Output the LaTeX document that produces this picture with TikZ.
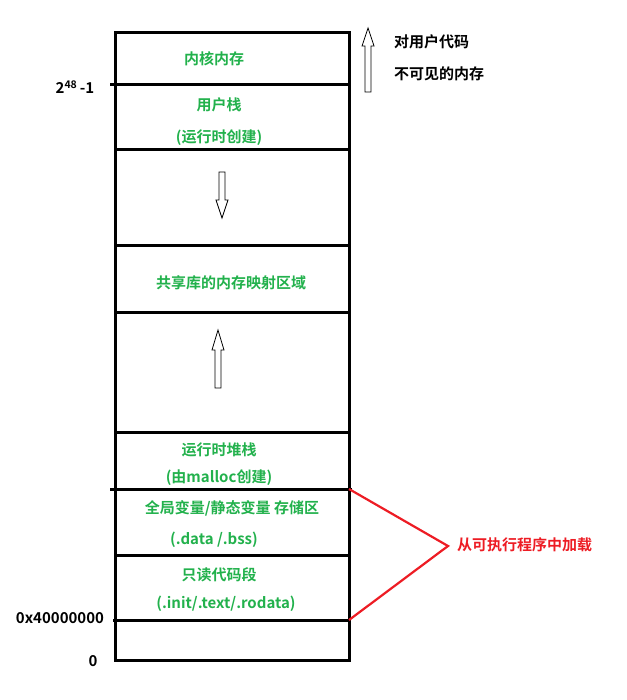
\documentclass[tikz,border=0pt]{standalone}
\usepackage{fontspec}
\setmainfont{Noto Sans CJK SC}[BoldFont={Noto Sans CJK SC Bold}]
\begin{document}
\begin{tikzpicture}[x=1pt,y=-1pt,
  lbl/.style={font=\fontsize{15}{17}\selectfont\bfseries, text=grn, inner sep=0},
  blk/.style={font=\fontsize{15}{17}\selectfont\bfseries, text=black, inner sep=0},
  sep/.style={line width=3pt},
  harrow/.style={draw=black, line width=0.8pt, fill=white}]
\definecolor{grn}{RGB}{34,177,76}
\definecolor{rd}{RGB}{237,28,36}
\useasboundingbox (0,0) rectangle (626,700);
\draw[line width=3pt] (115,33) rectangle (349,660);
\foreach \y in {85,150,246,312,432,555}{\draw[sep] (115,\y) -- (349,\y);}
\draw[sep] (110,85) -- (115,85);
\draw[sep] (110,489) -- (352,489);
\draw[sep] (113,620) -- (349,620);
% hollow arrows
\draw[harrow] (219,172) -- (225,172) -- (225,200) -- (228,200) -- (222,218) -- (216,200) -- (219,200) -- cycle;
\draw[harrow] (215,388) -- (221,388) -- (221,350) -- (224,350) -- (218,330) -- (212,350) -- (215,350) -- cycle;
\draw[harrow] (365,92) -- (371,92) -- (371,46) -- (374,46) -- (368,28) -- (362,46) -- (365,46) -- cycle;
% labels
\node[lbl] (kmem) at (214,59) {内核内存};
\node[lbl] (ustack) at (219,105) {用户栈};
\node[lbl] (ustack2) at (219,138) {(运行时创建)};
\node[lbl] (shared) at (231,283) {共享库的内存映射区域};
\node[lbl] (heap) at (219,450) {运行时堆栈};
\node[lbl] (heap2) at (219,478) {(由malloc创建)};
\node[lbl] (data) at (232,508) {全局变量/静态变量 存储区};
\node[lbl] (data2) at (214,540) {(.data /.bss)};
\node[lbl] (code) at (219,575) {只读代码段};
\node[lbl] (code2) at (226,604) {(.init/.text/.rodata)};
\node[blk] (top) at (75,87) {2\textsuperscript{48}\,-1};
\node[blk] (hex) at (60,618) {0x40000000};
\node[blk] (zero) at (93,661) {0};
\node[blk,anchor=west] (inv1) at (394,42) {对用户代码};
\node[blk,anchor=west] (inv2) at (394,74) {不可见的内存};
\node[font=\fontsize{15}{17}\selectfont\bfseries, text=rd, inner sep=0, anchor=west] (load) at (457,545) {从可执行程序中加载};
\coordinate (a) at (349,489);
\coordinate (b) at (349,620);
\coordinate (t) at (448,546);
\draw[rd, line width=2.2pt] (a) -- (t) -- (b);
\end{tikzpicture}
\end{document}
